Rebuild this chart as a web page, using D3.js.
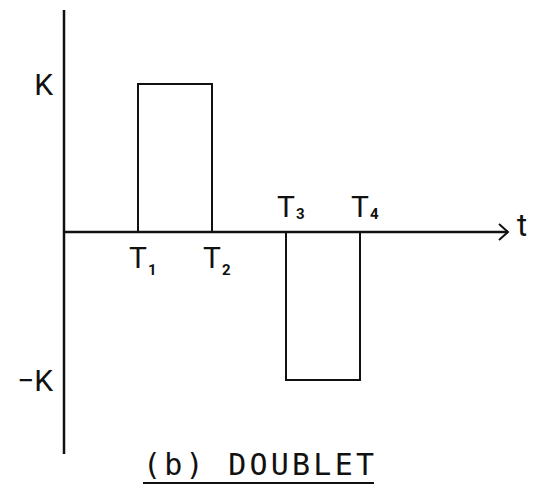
<!DOCTYPE html>
<html>
<head>
<meta charset="utf-8">
<script src="https://cdn.jsdelivr.net/npm/d3@7"></script>
<style>
	body { margin: 0; background: #fff; }
	svg { display: block; }
</style>
</head>
<body>
<div id="chart"></div>
<script>
// Doublet input signal: value held from each break time to the next
const breakTimes = [0, 1, 2, 3, 4, 6]
const levels = [0, 1, 0, -1, 0, 0]

// time markers on the t axis
const markerTimes = [1, 2, 3, 4]
const markerSubs = ["1", "2", "3", "4"]
const markerAbove = [false, false, true, true]

// level labels on the vertical axis
const levelValues = [1, -1]
const levelLabels = ["K", "\u2212K"]

const axisLabel = "t"
const title = "(b) DOUBLET"

const width = 553
const height = 489

const svg = d3.select("#chart")
	.append("svg")
	.attr("width", width)
	.attr("height", height)

const x = d3.scaleLinear().domain([0, 6]).range([64, 508])
const y = d3.scaleLinear().domain([-1.5, 1.5]).range([454, 10])

const ink = "#111"
const labelFont = "Roboto, 'DejaVu Sans', sans-serif"

// vertical axis
svg.append("line")
	.attr("x1", x(0)).attr("x2", x(0))
	.attr("y1", y(1.5)).attr("y2", y(-1.5))
	.attr("stroke", ink)
	.attr("stroke-width", 2.5)

// horizontal axis with arrow head
svg.append("line")
	.attr("x1", x(0)).attr("x2", x(6))
	.attr("y1", y(0)).attr("y2", y(0))
	.attr("stroke", ink)
	.attr("stroke-width", 2.5)

svg.append("path")
	.attr("d", `M${x(6) - 9},${y(0) - 8} L${x(6)},${y(0)} L${x(6) - 9},${y(0) + 8}`)
	.attr("fill", "none")
	.attr("stroke", ink)
	.attr("stroke-width", 2)

// signal
const signal = breakTimes.map((t, i) => ({ t, v: levels[i] }))
const line = d3.line()
	.x((d) => x(d.t))
	.y((d) => y(d.v))
	.curve(d3.curveStepAfter)

svg.append("path")
	.datum(signal)
	.attr("d", line)
	.attr("fill", "none")
	.attr("stroke", ink)
	.attr("stroke-width", 2)

// level labels
levelValues.forEach((v, i) => {
	svg.append("text")
		.attr("x", 53)
		.attr("y", y(v) + 11)
		.attr("text-anchor", "end")
		.style("font-family", labelFont)
		.style("font-size", "30px")
		.style("fill", ink)
		.text(levelLabels[i])
})

// time markers T1..T4
markerTimes.forEach((t, i) => {
	const baseY = markerAbove[i] ? y(0) - 15 : y(0) + 36
	const label = svg.append("text")
		.attr("x", x(t) - 9)
		.attr("y", baseY)
		.style("font-family", labelFont)
		.style("font-size", "30px")
		.style("fill", ink)
	label.append("tspan").text("T")
	label.append("tspan")
		.attr("dx", 1)
		.attr("dy", markerAbove[i] ? 2 : 7)
		.style("font-size", "15px")
		.style("font-weight", "bold")
		.text(markerSubs[i])
})

// axis name
svg.append("text")
	.attr("x", 517)
	.attr("y", y(0) + 4)
	.style("font-family", labelFont)
	.style("font-size", "31px")
	.style("fill", ink)
	.text(axisLabel)

// title with underline
svg.append("text")
	.attr("x", 143)
	.attr("y", 475)
	.attr("textLength", 231)
	.attr("lengthAdjust", "spacing")
	.style("font-family", "'DejaVu Sans Mono', monospace")
	.style("font-size", "30px")
	.style("fill", ink)
	.text(title)

svg.append("line")
	.attr("x1", 143).attr("x2", 374)
	.attr("y1", 483).attr("y2", 483)
	.attr("stroke", ink)
	.attr("stroke-width", 2)
</script>
</body>
</html>
